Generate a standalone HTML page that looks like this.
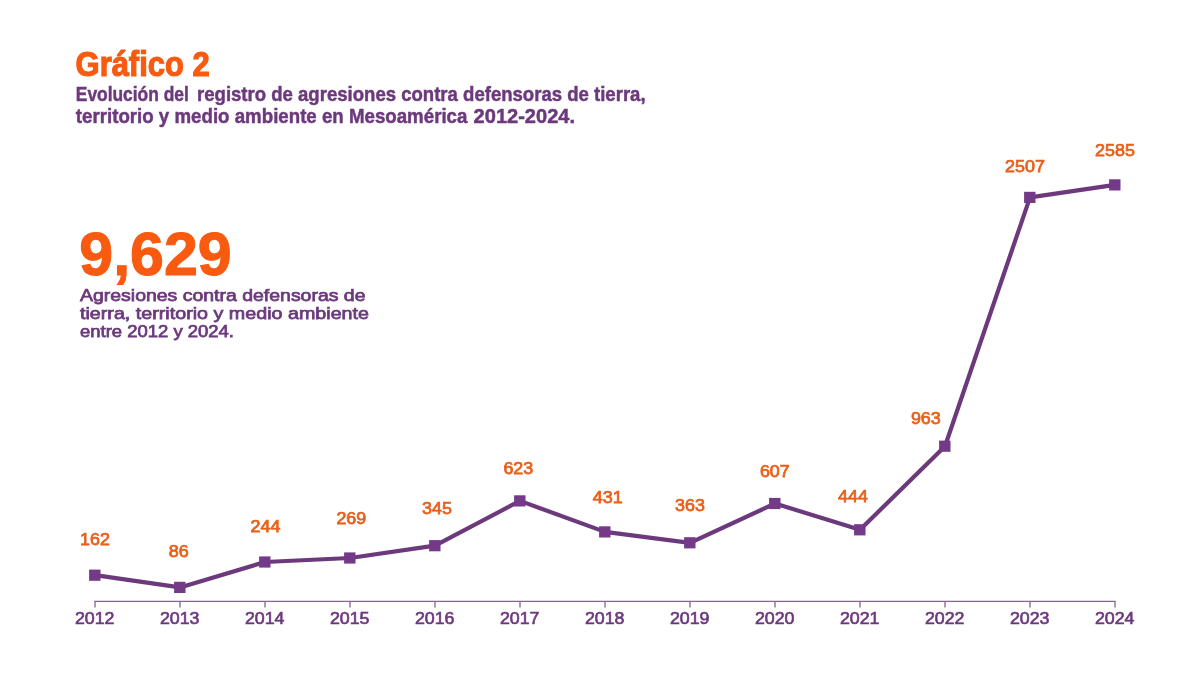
<!DOCTYPE html>
<html lang="es"><head><meta charset="utf-8"><title>Gráfico 2</title>
<style>
html,body{margin:0;padding:0;background:#fff;}
body{width:1200px;height:675px;overflow:hidden;position:relative;font-family:"Liberation Sans",sans-serif;}
svg{position:absolute;left:0;top:0;display:block;}
text{font-family:"Liberation Sans",sans-serif;}
.t1{font-weight:bold;font-size:35.2px;fill:#f85a10;stroke:#f85a10;stroke-width:1.2px;}
.t2{font-weight:bold;font-size:20.6px;fill:#6c397d;stroke:#6c397d;stroke-width:0.5px;}
.big{font-weight:bold;font-size:61.5px;fill:#f85a10;stroke:#f85a10;stroke-width:1.1px;}
.desc{font-size:17px;fill:#6c397d;stroke:#6c397d;stroke-width:0.75px;}
.yr{font-size:17.2px;fill:#6c397d;stroke:#6c397d;stroke-width:0.65px;text-anchor:middle;}
.val{font-size:16.6px;fill:#e9601a;stroke:#e9601a;stroke-width:0.75px;text-anchor:middle;}
</style></head><body>
<svg width="1200" height="675" viewBox="0 0 1200 675">
<text class="t1" x="75.6" y="75.5" textLength="134" lengthAdjust="spacingAndGlyphs">Gráfico 2</text>
<text class="t2" x="75.8" y="101.1" textLength="113" lengthAdjust="spacingAndGlyphs">Evolución del</text>
<text class="t2" x="197" y="101.1" textLength="448.6" lengthAdjust="spacingAndGlyphs">registro de agresiones contra defensoras de tierra,</text>
<text class="t2" x="75.8" y="122.7" textLength="391.6" lengthAdjust="spacingAndGlyphs">territorio y medio ambiente en Mesoamérica</text>
<text class="t2" x="473.6" y="122.7" textLength="101.4" lengthAdjust="spacingAndGlyphs">2012-2024.</text>
<text class="big" x="79.3" y="275" textLength="152.4" lengthAdjust="spacingAndGlyphs">9,629</text>
<text class="desc" x="80" y="300.5" textLength="285.5" lengthAdjust="spacingAndGlyphs">Agresiones contra defensoras de</text>
<text class="desc" x="80" y="319" textLength="289" lengthAdjust="spacingAndGlyphs">tierra, territorio y medio ambiente</text>
<text class="desc" x="80" y="337.1" textLength="154" lengthAdjust="spacingAndGlyphs">entre 2012 y 2024.</text>
<g stroke="#84658f" stroke-width="1.3" fill="none">
<path d="M94.4 601.3H1115.6"/>
<path d="M95.0 601.3V607.5M180.0 601.3V607.5M265.0 601.3V607.5M350.0 601.3V607.5M435.0 601.3V607.5M520.0 601.3V607.5M605.0 601.3V607.5M690.0 601.3V607.5M775.0 601.3V607.5M860.0 601.3V607.5M945.0 601.3V607.5M1030.0 601.3V607.5M1115.0 601.3V607.5"/>
</g>
<polyline fill="none" stroke="#6c397d" stroke-width="4.2" stroke-linejoin="round" points="95.0,575.2 180.0,587.4 265.0,562.0 350.0,558.0 435.0,545.7 520.0,500.9 605.0,531.9 690.0,542.8 775.0,503.5 860.0,529.8 945.0,446.2 1030.0,197.4 1115.0,184.9"/>
<g fill="#743a87">
<rect x="89.1" y="569.6" width="11.4" height="11.2"/>
<rect x="174.1" y="581.8" width="11.4" height="11.2"/>
<rect x="259.1" y="556.4" width="11.4" height="11.2"/>
<rect x="344.1" y="552.4" width="11.4" height="11.2"/>
<rect x="429.1" y="540.1" width="11.4" height="11.2"/>
<rect x="514.1" y="495.3" width="11.4" height="11.2"/>
<rect x="599.1" y="526.3" width="11.4" height="11.2"/>
<rect x="684.1" y="537.2" width="11.4" height="11.2"/>
<rect x="769.1" y="497.9" width="11.4" height="11.2"/>
<rect x="854.1" y="524.2" width="11.4" height="11.2"/>
<rect x="939.1" y="440.6" width="11.4" height="11.2"/>
<rect x="1024.1" y="191.8" width="11.4" height="11.2"/>
<rect x="1109.1" y="179.3" width="11.4" height="11.2"/>
</g>
<text class="yr" x="94.7" y="623.7" textLength="39.6" lengthAdjust="spacingAndGlyphs">2012</text>
<text class="yr" x="179.7" y="623.7" textLength="39.6" lengthAdjust="spacingAndGlyphs">2013</text>
<text class="yr" x="264.7" y="623.7" textLength="39.6" lengthAdjust="spacingAndGlyphs">2014</text>
<text class="yr" x="349.7" y="623.7" textLength="39.6" lengthAdjust="spacingAndGlyphs">2015</text>
<text class="yr" x="434.7" y="623.7" textLength="39.6" lengthAdjust="spacingAndGlyphs">2016</text>
<text class="yr" x="519.7" y="623.7" textLength="39.6" lengthAdjust="spacingAndGlyphs">2017</text>
<text class="yr" x="604.7" y="623.7" textLength="39.6" lengthAdjust="spacingAndGlyphs">2018</text>
<text class="yr" x="689.7" y="623.7" textLength="39.6" lengthAdjust="spacingAndGlyphs">2019</text>
<text class="yr" x="774.7" y="623.7" textLength="39.6" lengthAdjust="spacingAndGlyphs">2020</text>
<text class="yr" x="859.7" y="623.7" textLength="39.6" lengthAdjust="spacingAndGlyphs">2021</text>
<text class="yr" x="944.7" y="623.7" textLength="39.6" lengthAdjust="spacingAndGlyphs">2022</text>
<text class="yr" x="1029.7" y="623.7" textLength="39.6" lengthAdjust="spacingAndGlyphs">2023</text>
<text class="yr" x="1114.7" y="623.7" textLength="39.6" lengthAdjust="spacingAndGlyphs">2024</text>
<text class="val" x="95.0" y="545.1" textLength="29.8" lengthAdjust="spacingAndGlyphs">162</text>
<text class="val" x="178.7" y="556.7" textLength="19.9" lengthAdjust="spacingAndGlyphs">86</text>
<text class="val" x="265.5" y="531.5" textLength="29.8" lengthAdjust="spacingAndGlyphs">244</text>
<text class="val" x="351.3" y="524.2" textLength="29.8" lengthAdjust="spacingAndGlyphs">269</text>
<text class="val" x="437.0" y="513.9" textLength="29.8" lengthAdjust="spacingAndGlyphs">345</text>
<text class="val" x="518.3" y="473.5" textLength="29.8" lengthAdjust="spacingAndGlyphs">623</text>
<text class="val" x="607.7" y="503.1" textLength="29.8" lengthAdjust="spacingAndGlyphs">431</text>
<text class="val" x="690.0" y="511.4" textLength="29.8" lengthAdjust="spacingAndGlyphs">363</text>
<text class="val" x="774.8" y="476.9" textLength="29.8" lengthAdjust="spacingAndGlyphs">607</text>
<text class="val" x="853.0" y="501.8" textLength="29.8" lengthAdjust="spacingAndGlyphs">444</text>
<text class="val" x="925.8" y="424.4" textLength="29.8" lengthAdjust="spacingAndGlyphs">963</text>
<text class="val" x="1025.0" y="171.5" textLength="39.8" lengthAdjust="spacingAndGlyphs">2507</text>
<text class="val" x="1115.0" y="156.2" textLength="39.8" lengthAdjust="spacingAndGlyphs">2585</text>
</svg>
</body></html>
